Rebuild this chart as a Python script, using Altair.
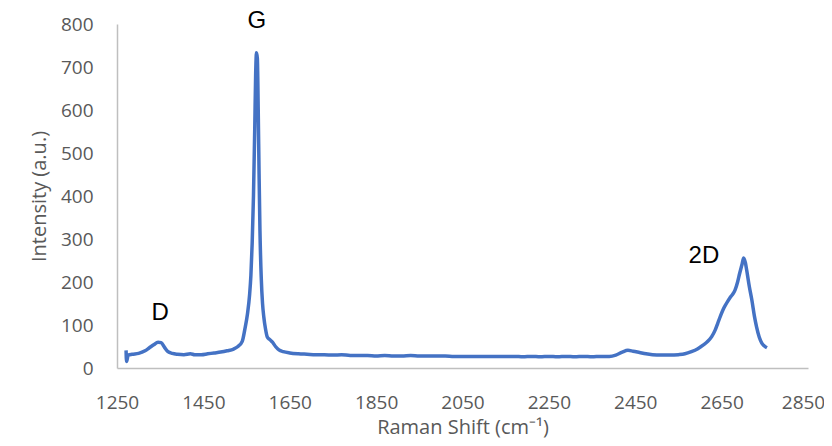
import altair as alt
import pandas as pd

# Raman spectrum
shift = [1271, 1272, 1276, 1285, 1300, 1315, 1325, 1335, 1345, 1352, 1360, 1368, 1378, 1390,
         1405, 1420, 1430, 1445, 1460, 1475, 1490, 1505, 1520, 1530, 1540, 1546, 1552, 1557,
         1560, 1563, 1566, 1569, 1571, 1573, 1575, 1577, 1579, 1581, 1584, 1587, 1590, 1594,
         1598, 1604, 1610, 1617, 1625, 1635, 1650, 1670, 1690, 1710, 1730, 1750, 1770, 1790,
         1810, 1830, 1850, 1870, 1890, 1910, 1930, 1950, 1970, 1990, 2010, 2030, 2050, 2070,
         2090, 2110, 2130, 2150, 2170, 2190, 2210, 2230, 2250, 2270, 2290, 2310, 2330, 2350,
         2370, 2390, 2405, 2420, 2433, 2445, 2460, 2475, 2490, 2510, 2530, 2550, 2565, 2580,
         2595, 2607, 2618, 2627, 2635, 2641, 2647, 2653, 2661, 2669, 2676, 2681, 2687, 2692,
         2697, 2701, 2705, 2708, 2714, 2720, 2726, 2731, 2737, 2743, 2749, 2755]
intensity = [41, 15, 30, 32, 34, 40, 47, 54, 60, 59, 48, 38, 34, 32,
             31, 33, 31, 31, 33, 35, 37, 40, 44, 50, 62, 90, 125, 170,
             215, 290, 400, 560, 680, 733, 720, 600, 450, 320, 210, 150, 118, 90,
             72, 66, 60, 50, 42, 38, 35, 33, 32, 31, 31, 30, 31, 29,
             29, 29, 28, 29, 28, 28, 29, 28, 28, 28, 28, 27, 27, 27,
             27, 27, 27, 27, 27, 26, 27, 26, 27, 26, 27, 26, 27, 26,
             27, 27, 30, 37, 41, 39, 36, 33, 31, 30, 30, 31, 33, 38,
             45, 53, 62, 73, 88, 104, 120, 135, 150, 163, 172, 181, 200, 221,
             240, 256, 245, 228, 190, 158, 120, 95, 72, 58, 51, 47]

# peak annotations
peak_labels = ["D", "G", "2D"]
peak_shift = [1350, 1574, 2609]
peak_intensity = [128, 806, 260]

x_ticks = [1250, 1450, 1650, 1850, 2050, 2250, 2450, 2650, 2850]
y_ticks = [0, 100, 200, 300, 400, 500, 600, 700, 800]

df = pd.DataFrame({"shift": shift, "intensity": intensity})
lab = pd.DataFrame({"shift": peak_shift, "intensity": peak_intensity, "label": peak_labels})

x_enc = alt.X("shift:Q",
              scale=alt.Scale(domain=[1250, 2850], nice=False, zero=False),
              axis=alt.Axis(values=x_ticks, title="Raman Shift (cm⁻¹)", labelPadding=25,
                            titlePadding=5, format="d", labelFlush=False,
                            labelOffset={"condition": {"test": "datum.value >= 2850", "value": -5},
                                         "value": 0}))
y_enc = alt.Y("intensity:Q",
              scale=alt.Scale(domain=[0, 800], nice=False),
              axis=alt.Axis(values=y_ticks, title="Intensity (a.u.)", labelPadding=24,
                            titlePadding=11, labelFlush=False))

line = alt.Chart(df).mark_line(color="#4472C4", strokeWidth=3.5, interpolate="monotone").encode(
    x=x_enc, y=y_enc)

text = alt.Chart(lab).mark_text(font="Liberation Sans", fontSize=24, color="black",
                                align="center", baseline="middle").encode(
    x="shift:Q", y="intensity:Q", text="label:N")

chart = (line + text).properties(
    width=691, height=344,
    padding={"left": 109, "top": 16, "right": 16, "bottom": 70},
    autosize=alt.AutoSizeParams(type="none"),
).configure_axis(
    grid=False, ticks=False, tickSize=0,
    domainColor="#BFBFBF", domainWidth=1.5,
    labelFont="Open Sans", labelFontSize=19, labelColor="#595959",
    titleFont="Open Sans", titleFontSize=20, titleColor="#595959", titleFontWeight="normal",
).configure_view(stroke=None)

chart.save("out.html", embed_options={"renderer": "svg", "actions": False})
